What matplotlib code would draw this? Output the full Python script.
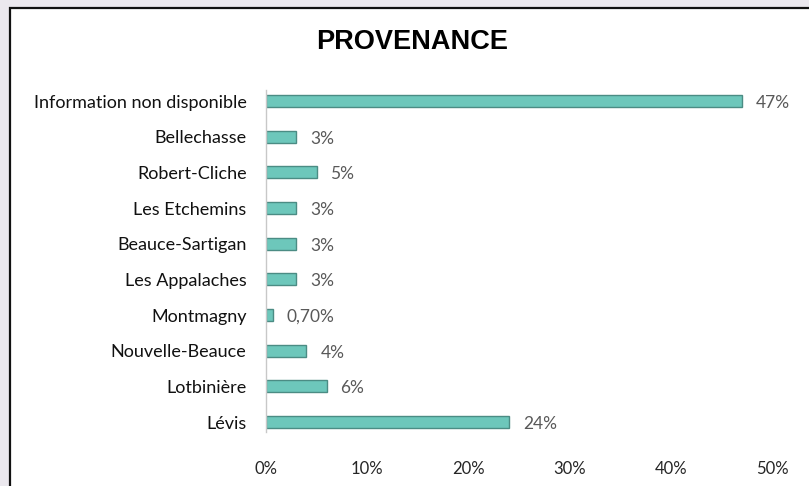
import matplotlib.pyplot as plt
import matplotlib.patches as mpatches

# Provenance of respondents (share of total, %)
regions = ["Lévis", "Lotbinière", "Nouvelle-Beauce", "Montmagny", "Les Appalaches",
           "Beauce-Sartigan", "Les Etchemins", "Robert-Cliche", "Bellechasse",
           "Information non disponible"]
shares = [24, 6, 4, 0.7, 3, 3, 3, 5, 3, 47]
share_labels = ["24%", "6%", "4%", "0,70%", "3%", "3%", "3%", "5%", "3%", "47%"]
x_ticks = [0, 10, 20, 30, 40, 50]
x_tick_labels = ["0%", "10%", "20%", "30%", "40%", "50%"]

bar_color = "#6dc7bb"
edge_color = "#4b8c84"
label_font = ["Lato", "DejaVu Sans"]

fig = plt.figure(figsize=(8.09, 4.86), dpi=100)
fig.patch.set_facecolor("#ebe8ee")

# white panel with a dark frame
panel = mpatches.Rectangle((10 / 809, -0.1), 1.0, 1.1 - 8 / 486,
                           transform=fig.transFigure, facecolor="white",
                           edgecolor="#111111", linewidth=1.6, zorder=-1)
fig.patches.append(panel)

ax = fig.add_axes([266 / 809, 1 - 432 / 486, 506 / 809, 342 / 486])
ax.set_zorder(2)
ax.set_facecolor("none")

pos = list(range(len(regions)))
ax.barh(pos, shares, height=0.34, color=bar_color, edgecolor=edge_color, linewidth=1)

for p, v, lab in zip(pos, shares, share_labels):
    ax.annotate(lab, (v, p), xytext=(10, -1.5), textcoords="offset points",
                va="center", ha="left", fontsize=12.5, color="#595959", family=label_font)

ax.set_xlim(0, 50)
ax.set_ylim(-0.28, 9.31)
ax.set_yticks(pos)
ax.set_yticklabels(regions, fontsize=13, color="#111111", family=label_font)
ax.set_xticks(x_ticks)
ax.set_xticklabels(x_tick_labels, fontsize=12, color="#262626", family=label_font)
ax.tick_params(axis="y", length=0, pad=14)
ax.tick_params(axis="x", length=0, pad=21)

for side in ["top", "right", "bottom"]:
    ax.spines[side].set_visible(False)
ax.spines["left"].set_color("#c8c8c8")
ax.spines["left"].set_linewidth(1)

fig.text(412 / 809, 1 - 42 / 486, "PROVENANCE", ha="center", va="center",
         fontsize=19.5, fontweight="bold", family="Liberation Sans", color="#000000",
         zorder=3)

fig.savefig("out.png", dpi=100, facecolor=fig.get_facecolor())
